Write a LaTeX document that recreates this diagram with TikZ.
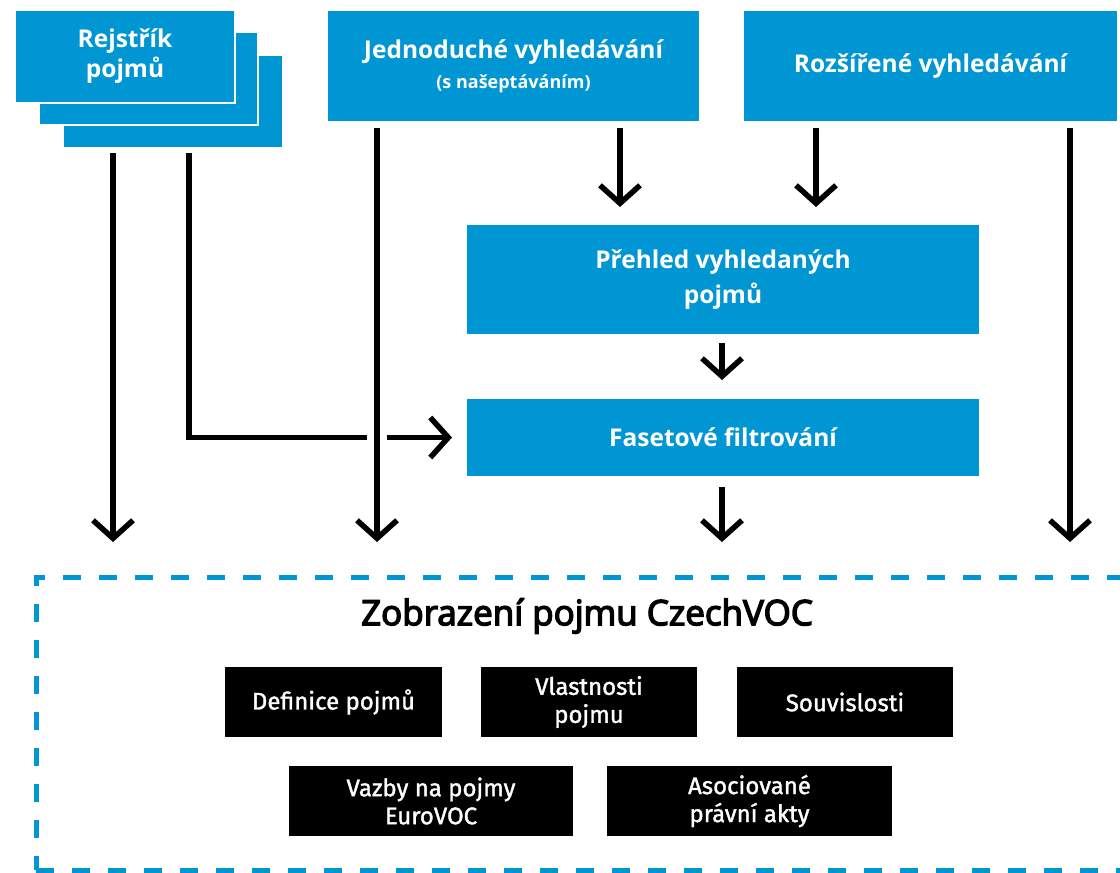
\documentclass[tikz,border=0pt]{standalone}
\usepackage{fontspec}
\setmainfont{Fira Sans}
\newfontfamily\osans{Open Sans}
\newfontfamily\titlefont{Open Sans}[FakeBold=4]
\newfontfamily\boxfont{Fira Sans}[FakeBold=1.5]
\usetikzlibrary{arrows.meta,calc}
\definecolor{czblue}{HTML}{0096D3}
\begin{document}
\begin{tikzpicture}[x=1pt,y=-1pt,
  bluebox/.style={fill=czblue, draw=white, line width=2.5pt, text=white, outer sep=0pt,
    font=\osans\bfseries\fontsize{24.5}{30}\selectfont, align=center, inner sep=0pt, anchor=north west},
  blackbox/.style={fill=black, text=white, outer sep=0pt, inner sep=0pt, anchor=north west,
    font=\boxfont\fontsize{24}{28}\selectfont, align=center, minimum height=70pt},
  arr/.style={draw=black, line width=5.5pt, -{Straight Barb[length=18pt,width=40pt]}},
  dashframe/.style={draw=czblue, line width=5pt, dash pattern=on 18pt off 18pt, outer sep=0pt, inner sep=0pt, anchor=north west}
  ]
\useasboundingbox (0,0) rectangle (1120,873);
% stacked index boxes
\node[bluebox, minimum width=220pt, minimum height=93pt] (r3) at (63,55) {};
\node[bluebox, minimum width=219pt, minimum height=93pt] (r2) at (39,32) {};
\node[bluebox, minimum width=220pt, minimum height=93pt] (r1) at (15,10) {Rejstřík\\pojmů};
% search boxes
\node[bluebox, minimum width=373pt, minimum height=112pt] (jed) at (327,10)
  {Jednoduché vyhledávání\\{\fontsize{18}{22}\selectfont (s našeptáváním)}};
\node[bluebox, minimum width=375pt, minimum height=112pt] (roz) at (743,10) {Rozšířené vyhledávání};
\node[bluebox, minimum width=514pt, minimum height=111pt,
  font=\osans\bfseries\fontsize{24.5}{35}\selectfont] (preh) at (466,224) {Přehled vyhledaných\\pojmů};
\node[bluebox, minimum width=514pt, minimum height=79pt] (fas) at (466,398) {Fasetové filtrování};
% concept view frame
\node[dashframe, minimum width=1100pt, minimum height=293pt] (view) at (36,577) {};
\node[font=\titlefont\fontsize{35}{40}\selectfont] (title) at (587,616) {Zobrazení pojmu CzechVOC};
\node[blackbox, minimum width=217pt] (def) at (225,667) {Definice pojmů};
\node[blackbox, minimum width=216pt] (vla) at (481,667) {Vlastnosti\\pojmu};
\node[blackbox, minimum width=216pt] (sou) at (737,667) {Souvislosti};
\node[blackbox, minimum width=284pt] (vaz) at (289,766) {Vazby na pojmy\\EuroVOC};
\node[blackbox, minimum width=285pt] (aso) at (607,766) {Asociované\\právní akty};
% connectors
\draw[arr] ($(r3.south west)+(50,5)$) -- ($(view.north west)+(77,-35)$);
\draw[arr] ($(r3.south west)+(126,5)$) |- ($(fas.west)+(-14,0)$);
\draw[arr, preaction={draw=white, line width=20pt, -}] ($(jed.south west)+(50,6)$) -- ($(view.north west)+(341,-35)$);
\draw[arr] ($(jed.south east)+(-80,6)$) -- ($(preh.north west)+(154,-17)$);
\draw[arr] ($(roz.south west)+(73,6)$) -- ($(preh.north west)+(350,-17)$);
\draw[arr] ($(roz.south west)+(327,6)$) -- ($(view.north west)+(1034,-35)$);
\draw[arr] ($(preh.south)+(-1,8)$) -- ($(fas.north)+(-1,-18)$);
\draw[arr] ($(fas.south)+(-1,10)$) -- ($(view.north west)+(686,-35)$);
\end{tikzpicture}
\end{document}
